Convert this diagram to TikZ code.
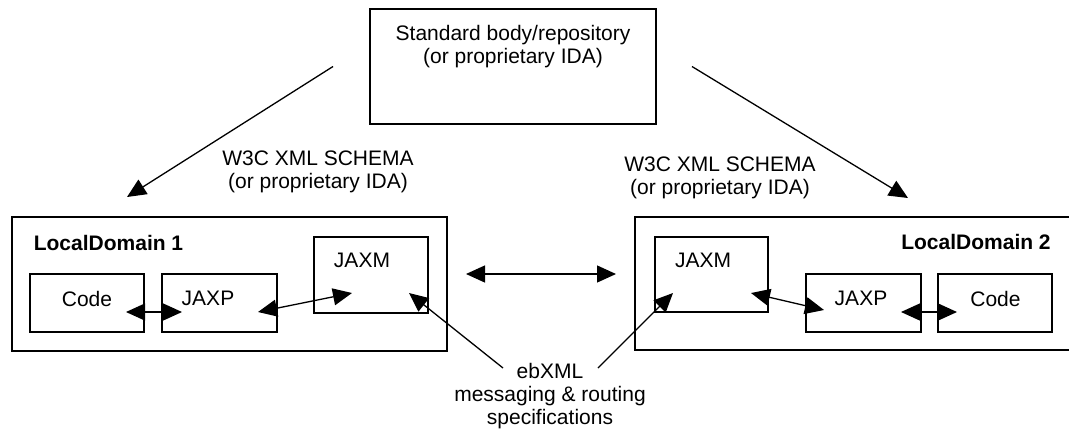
\documentclass[tikz,border=0pt]{standalone}
\usepackage{fontspec}
\setmainfont{Liberation Sans}
\usetikzlibrary{arrows.meta,calc}
\tikzset{
  box/.style={draw, line width=1.8pt, rectangle, inner sep=0pt, outer sep=0pt},
  txt/.style={font=\fontsize{21}{23}\selectfont, inner sep=0pt, align=center},
  btxt/.style={font=\fontsize{21}{23}\selectfont\bfseries, inner sep=0pt},
  conn/.style={line width=1.3pt, -{Triangle[length=19pt,width=17pt]}},
  dconn/.style={line width=1.3pt, {Triangle[length=19pt,width=17pt]}-{Triangle[length=19pt,width=17pt]}}
}
\begin{document}
\begin{tikzpicture}[x=1pt,y=-1pt]
\useasboundingbox (0,0) rectangle (1069,432);
% boxes
\node[box, minimum width=286pt, minimum height=115pt] (top) at (513,66.5) {};
\node[box, minimum width=435pt, minimum height=134pt] (dom1) at (229.5,284) {};
\node[box, minimum width=114pt, minimum height=58pt] (code1) at (87,303) {};
\node[box, minimum width=115pt, minimum height=58pt] (jaxp1) at (219.5,303) {};
\node[box, minimum width=114pt, minimum height=76pt] (jaxm1) at (371,275) {};
\node[box, minimum width=445pt, minimum height=133pt] (dom2) at (857.5,283.5) {};
\node[box, minimum width=113pt, minimum height=75pt] (jaxm2) at (711.5,274.5) {};
\node[box, minimum width=115pt, minimum height=58pt] (jaxp2) at (863.5,303) {};
\node[box, minimum width=114pt, minimum height=58pt] (code2) at (995,303) {};
% texts
\node[txt] (toptxt) at (513,47) {Standard body/repository\\(or proprietary IDA)};
\node[txt] (w3cl) at (318,172) {W3C XML SCHEMA\\(or proprietary IDA)};
\node[txt] (w3cr) at (720,178) {W3C XML SCHEMA\\(or proprietary IDA)};
\node[txt] (ebxml) at (550,396.5) {ebXML\\messaging \& routing\\specifications};
\node[btxt] (ld1) at (108.5,243) {LocalDomain 1};
\node[btxt] (ld2) at (976,242) {LocalDomain 2};
\node[txt] (code1t) at (87,299) {Code};
\node[txt] (jaxp1t) at (208,298) {JAXP};
\node[txt] (jaxm1t) at (362,260) {JAXM};
\node[txt] (jaxm2t) at (703,260) {JAXM};
\node[txt] (jaxp2t) at (861,298) {JAXP};
\node[txt] (code2t) at (995.5,299) {Code};
% connector end points
\coordinate (a1s) at ($(top.west)+(-37,0)$);
\coordinate (a1e) at ($(dom1.north)+(-102.5,-20)$);
\coordinate (a2s) at ($(top.east)+(36,0)$);
\coordinate (a2e) at ($(dom2.north)+(50.5,-19)$);
\coordinate (hs) at ($(dom1.east)+(19,-10)$);
\coordinate (he) at ($(dom2.west)+(-19,-9.5)$);
\coordinate (cj1s) at ($(code1.east)+(-18,9)$);
\coordinate (cj1e) at ($(jaxp1.west)+(20,9)$);
\coordinate (jm1s) at ($(jaxp1.east)+(-19,9)$);
\coordinate (jm1e) at ($(jaxm1.center)+(-19,18)$);
\coordinate (eb1s) at (503,368);
\coordinate (eb1e) at ($(jaxm1.center)+(38,18)$);
\coordinate (eb2s) at (598,368);
\coordinate (eb2e) at ($(jaxm2.center)+(-38.5,18.5)$);
\coordinate (mj2s) at ($(jaxm2.center)+(39.5,18.5)$);
\coordinate (mj2e) at ($(jaxp2.west)+(18,7)$);
\coordinate (jc2s) at ($(jaxp2.east)+(-20,9)$);
\coordinate (jc2e) at ($(code2.west)+(19,9)$);
% connectors
\draw[conn] (a1s) -- (a1e);
\draw[conn] (a2s) -- (a2e);
\draw[dconn] (hs) -- (he);
\draw[dconn] (cj1s) -- (cj1e);
\draw[dconn] (jm1s) -- (jm1e);
\draw[conn] (eb1s) -- (eb1e);
\draw[conn] (eb2s) -- (eb2e);
\draw[dconn] (mj2s) -- (mj2e);
\draw[dconn] (jc2s) -- (jc2e);
\end{tikzpicture}
\end{document}
